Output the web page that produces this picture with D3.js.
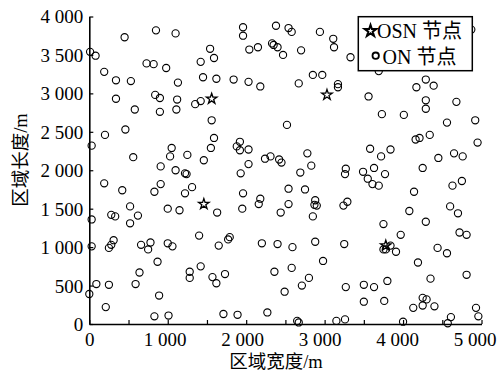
<!DOCTYPE html>
<html><head><meta charset="utf-8">
<script src="https://cdn.jsdelivr.net/npm/d3@7"></script>
<style>body{margin:0;background:#fff}svg{display:block}</style>
</head><body><svg id="c" width="502" height="374"></svg>
<script>
const xTickValues = [0,500,1000,1500,2000,2500,3000,3500,4000,4500,5000];
const xLabelValues = [0,1000,2000,3000,4000,5000];
const yTickValues = [0,500,1000,1500,2000,2500,3000,3500,4000];
const xTitle = "区域宽度/m";
const yTitle = "区域长度/m";
const legendLabels = ["OSN 节点","ON 节点"];
const osnNodes = [[1560,2930],[3030,2980],[1460,1560],[3780,1020]];
const onNodes = [
[450,3730],[850,3820],[1100,3780],[10,3540],[80,3490],[1540,3580],[1590,3460],[1420,3410],[730,3390],[820,3380],
[980,3330],[190,3280],[340,3170],[530,3160],[1130,3140],[1450,3210],[1620,3190],[340,2930],[840,2980],[900,2940],
[1120,2920],[1350,2860],[1420,2900],[580,2790],[900,2760],[1110,2790],[1560,2650],[1960,3860],[1960,3750],[2380,3880],
[2540,3850],[2580,3800],[2940,3800],[3110,3710],[3120,3600],[2040,3570],[2150,3600],[2330,3650],[2350,3630],[2400,3600],
[2470,3500],[2700,3560],[1840,3180],[2030,3150],[2180,3090],[2670,3130],[2850,3240],[2970,3240],[3170,3120],[3170,3080],
[3330,3470],[3690,3290],[4870,3830],[4290,3180],[4170,3080],[4390,3100],[3560,2960],[4290,2910],[4290,2800],[4680,2890],
[3730,2730],[4010,2720],[4560,2620],[4920,2650],[200,2460],[460,2530],[30,2320],[1590,2420],[1550,2290],[1050,2290],
[1030,2180],[1250,2200],[1460,2130],[560,2170],[910,2050],[1100,2000],[1220,1960],[1240,1950],[190,1830],[420,1740],
[910,1820],[830,1720],[1220,1700],[1310,1780],[520,1530],[1000,1500],[1150,1480],[620,1410],[280,1420],[330,1400],
[1630,1450],[30,1360],[520,1310],[2520,2590],[1920,2370],[1880,2310],[1920,2260],[2030,2270],[2030,2080],[1930,1960],
[2240,2150],[2310,2180],[2420,2140],[2450,2100],[2780,2220],[2830,2060],[2690,1970],[3270,2020],[3260,1950],[1960,1700],
[2540,1760],[2750,1750],[2180,1630],[2160,1560],[1950,1500],[2540,1560],[2440,1450],[2880,1610],[2870,1550],[2900,1540],
[2850,1400],[3240,1540],[3290,1590],[4160,2400],[4210,2420],[4340,2460],[4950,2360],[3580,2280],[3840,2270],[3720,2180],
[4650,2220],[4760,2180],[4450,2160],[4250,2030],[3490,1980],[3630,2030],[3770,1950],[3550,1890],[3610,1820],[3690,1800],
[4630,1800],[4750,1860],[4140,1720],[4600,1530],[4700,1440],[4080,1470],[4290,1330],[3750,1300],[30,1010],[250,990],
[280,1030],[310,1090],[660,1030],[780,1060],[750,970],[1000,1050],[1060,1010],[1400,1150],[1650,1020],[870,810],
[640,670],[1420,750],[1280,680],[1280,600],[1570,610],[1620,530],[90,520],[250,510],[590,520],[0,390],
[890,370],[210,220],[830,100],[1010,110],[1770,1100],[1790,1130],[2200,1050],[2400,1040],[2590,1000],[2880,1070],
[3250,1040],[2980,820],[2360,680],[2580,730],[2800,600],[2710,500],[2490,420],[1730,650],[3270,480],[1710,130],
[1890,120],[2270,150],[2650,40],[2670,20],[3150,40],[3260,60],[3970,1160],[4720,1190],[4810,1160],[3750,970],
[3780,970],[3840,1020],[3910,940],[4440,990],[4560,920],[4190,800],[4810,640],[4350,590],[3500,510],[3630,480],
[3800,560],[3500,290],[3760,300],[4250,340],[4300,320],[4250,240],[4130,210],[4400,230],[4930,210],[4960,100],
[4610,90],[4570,10],[4000,30]
];

const FONT = "'Liberation Serif','Times New Roman','Noto Sans CJK SC',serif";
const svg = d3.select("#c");
const x = d3.scaleLinear().domain([0,5000]).range([89.3,481.5]);
const y = d3.scaleLinear().domain([0,4000]).range([324,16.5]);
const fmt = v => v >= 1000 ? d3.format(",")(v).replace(",", " ") : String(v);

// axes
const gx = svg.append("g").attr("transform", `translate(0,${y(0)})`)
  .call(d3.axisBottom(x).tickValues(xTickValues).tickSizeInner(-4).tickSizeOuter(0)
    .tickFormat(d => xLabelValues.includes(d) ? fmt(d) : ""));
const gy = svg.append("g").attr("transform", `translate(${x(0)},0)`)
  .call(d3.axisLeft(y).tickValues(yTickValues).tickSizeInner(-4).tickSizeOuter(0)
    .tickFormat(fmt));
[gx, gy].forEach(g => {
  g.select(".domain").attr("stroke","#000").attr("stroke-width",1.6);
  g.selectAll(".tick line").attr("stroke","#000").attr("stroke-width",1.2);
  g.selectAll("text").attr("fill","#000").style("font-family",FONT).style("font-size","19px");
});
gx.selectAll(".tick text").attr("y",22).attr("dy",null)
  .attr("dx", d => d > 0 ? -(2 + d/1000) : 0);
gy.selectAll(".tick text").attr("x",-6).attr("dy","0.34em");

// ON nodes
svg.append("g").selectAll("circle").data(onNodes).join("circle")
  .attr("cx", d => x(d[0])).attr("cy", d => y(d[1])).attr("r",3.6)
  .attr("fill","none").attr("stroke","#000").attr("stroke-width",1.1);

// OSN nodes
const star = d3.symbol().type(d3.symbolStar).size(34);
svg.append("g").selectAll("path").data(osnNodes).join("path")
  .attr("d", star).attr("transform", d => `translate(${x(d[0])},${y(d[1])})`)
  .attr("fill","none").attr("stroke","#000").attr("stroke-width",1.3);

// axis titles
svg.append("text").attr("x",276).attr("y",368).attr("text-anchor","middle")
  .style("font-family",FONT).style("font-size","18.5px").text(xTitle);
svg.append("text").attr("transform","translate(27,160) rotate(-90)").attr("text-anchor","middle")
  .style("font-family",FONT).style("font-size","18.5px").text(yTitle);

// legend
const lg = svg.append("g");
lg.append("rect").attr("x",358.3).attr("y",16.7).attr("width",114).attr("height",54)
  .attr("fill","#fff").attr("stroke","#000").attr("stroke-width",1.5);
lg.append("path").attr("d", d3.symbol().type(d3.symbolStar).size(42))
  .attr("transform","translate(370.5,31)").attr("fill","none").attr("stroke","#000").attr("stroke-width",2);
lg.append("circle").attr("cx",375.7).attr("cy",55.7).attr("r",3.2)
  .attr("fill","none").attr("stroke","#000").attr("stroke-width",1.8);
lg.append("text").attr("x",377).attr("y",38).style("font-family",FONT).style("font-size","20px").text(legendLabels[0]);
lg.append("text").attr("x",382.5).attr("y",63.5).style("font-family",FONT).style("font-size","20px").text(legendLabels[1]);
</script></body></html>
